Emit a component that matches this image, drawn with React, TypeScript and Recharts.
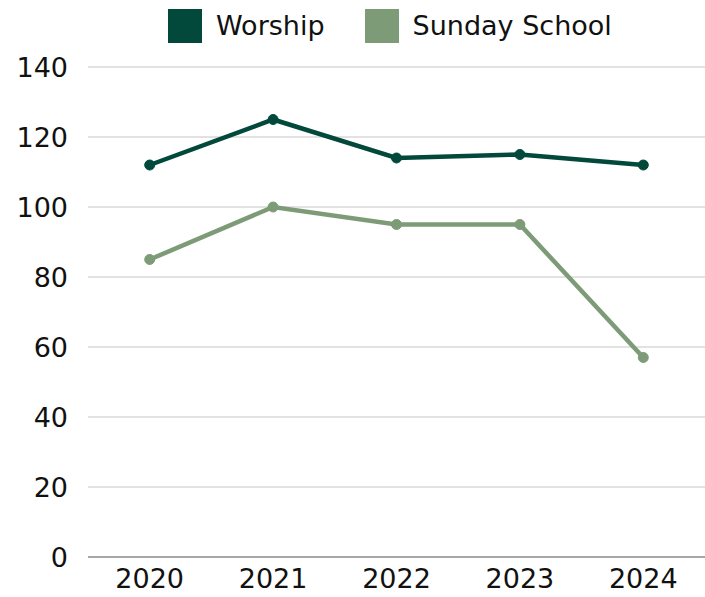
import React from "react";
import {
  LineChart,
  Line,
  XAxis,
  YAxis,
  CartesianGrid,
} from "recharts";

// Chart values
const years = ["2020", "2021", "2022", "2023", "2024"];
const worship = [112, 125, 114, 115, 112];
const sundaySchool = [85, 100, 95, 95, 57];
const yTicks = [0, 20, 40, 60, 80, 100, 120, 140];

const WORSHIP_COLOR = "#03493b";
const SUNDAY_COLOR = "#7e9b78";
const FONT = "'DejaVu Sans', sans-serif";

const data = years.map((year, i) => ({
  year,
  worship: worship[i],
  sunday: sundaySchool[i],
}));

const legendItems = [
  { label: "Worship", color: WORSHIP_COLOR },
  { label: "Sunday School", color: SUNDAY_COLOR },
];

// Legend with large square swatches, drawn over the top of the chart so
// it does not push the plot area down
const ChartLegend = () => (
  <div
    style={{
      position: "absolute",
      top: 9,
      left: 168,
      display: "flex",
      alignItems: "center",
      gap: 40,
      fontFamily: FONT,
      fontSize: 27,
      color: "#111",
      lineHeight: "34px",
    }}
  >
    {legendItems.map((item) => (
      <div key={item.label} style={{ display: "flex", alignItems: "center" }}>
        <span
          style={{
            display: "inline-block",
            width: 34,
            height: 34,
            background: item.color,
            marginRight: 14,
          }}
        />
        <span>{item.label}</span>
      </div>
    ))}
  </div>
);

export default function App() {
  return (
    <div
      style={{
        position: "absolute",
        left: 0,
        top: 0,
        width: 705,
        height: 597,
        background: "#fff",
      }}
    >
      <LineChart
        width={705}
        height={597}
        data={data}
        margin={{ top: 67, right: 0, bottom: 0, left: 0 }}
      >
        <CartesianGrid vertical={false} stroke="#d9d9d9" strokeWidth={1.5} />
        <XAxis
          dataKey="year"
          scale="band"
          axisLine={{ stroke: "#a6a6a6", strokeWidth: 2 }}
          tickLine={false}
          tick={{ fill: "#111", fontSize: 27, fontFamily: FONT }}
          tickMargin={6}
          height={40}
        />
        <YAxis
          domain={[0, 140]}
          ticks={yTicks}
          width={88}
          axisLine={false}
          tickLine={false}
          tick={{ fill: "#111", fontSize: 27, fontFamily: FONT }}
          tickMargin={14}
        />
        <Line
          dataKey="worship"
          name="Worship"
          stroke={WORSHIP_COLOR}
          strokeWidth={4.5}
          dot={{ r: 5, fill: WORSHIP_COLOR, stroke: WORSHIP_COLOR, strokeWidth: 1 }}
          isAnimationActive={false}
        />
        <Line
          dataKey="sunday"
          name="Sunday School"
          stroke={SUNDAY_COLOR}
          strokeWidth={4.5}
          dot={{ r: 5, fill: SUNDAY_COLOR, stroke: SUNDAY_COLOR, strokeWidth: 1 }}
          isAnimationActive={false}
        />
      </LineChart>
      <ChartLegend />
    </div>
  );
}
